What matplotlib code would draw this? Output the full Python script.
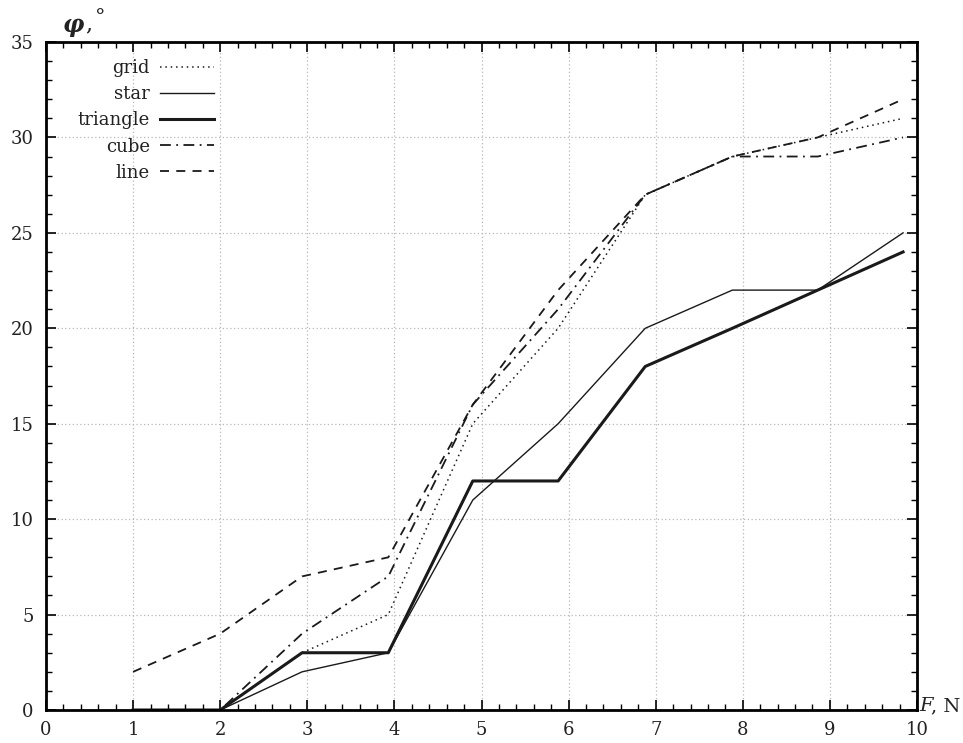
import matplotlib
matplotlib.use("Agg")
import matplotlib.pyplot as plt
from matplotlib.ticker import MultipleLocator

plt.rcParams['font.family'] = ['DejaVu Serif']

# data
F = [1, 2, 2.94, 3.93, 4.9, 5.88, 6.88, 7.88, 8.86, 9.84]
grid_vals = [0, 0, 3, 5, 15, 20, 27, 29, 30, 31]
star_vals = [0, 0, 2, 3, 11, 15, 20, 22, 22, 25]
triangle_vals = [0, 0, 3, 3, 12, 12, 18, 20, 22, 24]
cube_vals = [0, 0, 4, 7, 16, 21, 27, 29, 29, 30]
line_vals = [2, 4, 7, 8, 16, 22, 27, 29, 30, 32]

x_ticks = list(range(0, 11))
y_ticks = list(range(0, 36, 5))

W, H = 963, 743
fig = plt.figure(figsize=(W / 100, H / 100), dpi=100)
L, R, T, B = 46, 917, 42, 710
ax = fig.add_axes([L / W, 1 - B / H, (R - L) / W, (B - T) / H])

c = '#1a1a1a'
ax.plot(F, grid_vals, color=c, lw=1.1, linestyle=(0, (1, 2.5)), label='grid')
ax.plot(F, star_vals, color=c, lw=1.0, linestyle='-', label='star')
ax.plot(F, triangle_vals, color=c, lw=2.2, linestyle='-', label='triangle')
ax.plot(F, cube_vals, color=c, lw=1.3, linestyle=(0, (6, 3, 1, 3)), label='cube')
ax.plot(F, line_vals, color=c, lw=1.3, linestyle=(0, (5, 4)), label='line')

ax.set_xlim(0, 10)
ax.set_ylim(0, 35)
ax.set_xticks(x_ticks)
ax.set_yticks(y_ticks)
ax.xaxis.set_minor_locator(MultipleLocator(0.2))
ax.yaxis.set_minor_locator(MultipleLocator(1))
ax.tick_params(which='both', direction='in', top=True, right=True, color='black')
ax.tick_params(which='major', length=7, width=1.2, labelsize=13, labelcolor='#222222')
ax.tick_params(which='minor', length=4, width=1.0)
ax.tick_params(axis='x', which='major', pad=8)
ax.tick_params(axis='y', which='major', pad=9)
for s in ax.spines.values():
    s.set_linewidth(2.0)
    s.set_color('black')

ax.grid(True, which='major', color='#b8b8b8', lw=0.9, linestyle=(0, (1, 2)))
ax.set_axisbelow(True)

leg = ax.legend(loc='upper left', bbox_to_anchor=(0.028, 0.985), frameon=False,
                markerfirst=False, fontsize=13, handlelength=3.0,
                labelspacing=0.45, handletextpad=0.55, borderaxespad=0)
for t in leg.get_texts():
    t.set_color('#222222')

# axis labels
fig.text(63 / W, 1 - 25 / H, 'φ', fontsize=17, fontstyle='italic', fontweight='bold',
         ha='left', va='center', color='#222222')
fig.text(85 / W, 1 - 24 / H, ',', fontsize=16, ha='left', va='center', color='#222222')
fig.text(95 / W, 1 - 17 / H, '°', fontsize=15, ha='left', va='center', color='#222222')
fig.text(919 / W, 1 - 706 / H, 'F', fontsize=14, fontstyle='italic', ha='left', va='center',
         color='#222222')
fig.text(931 / W, 1 - 706 / H, ', N', fontsize=14, ha='left', va='center', color='#222222')

fig.savefig('out.png', dpi=100)
